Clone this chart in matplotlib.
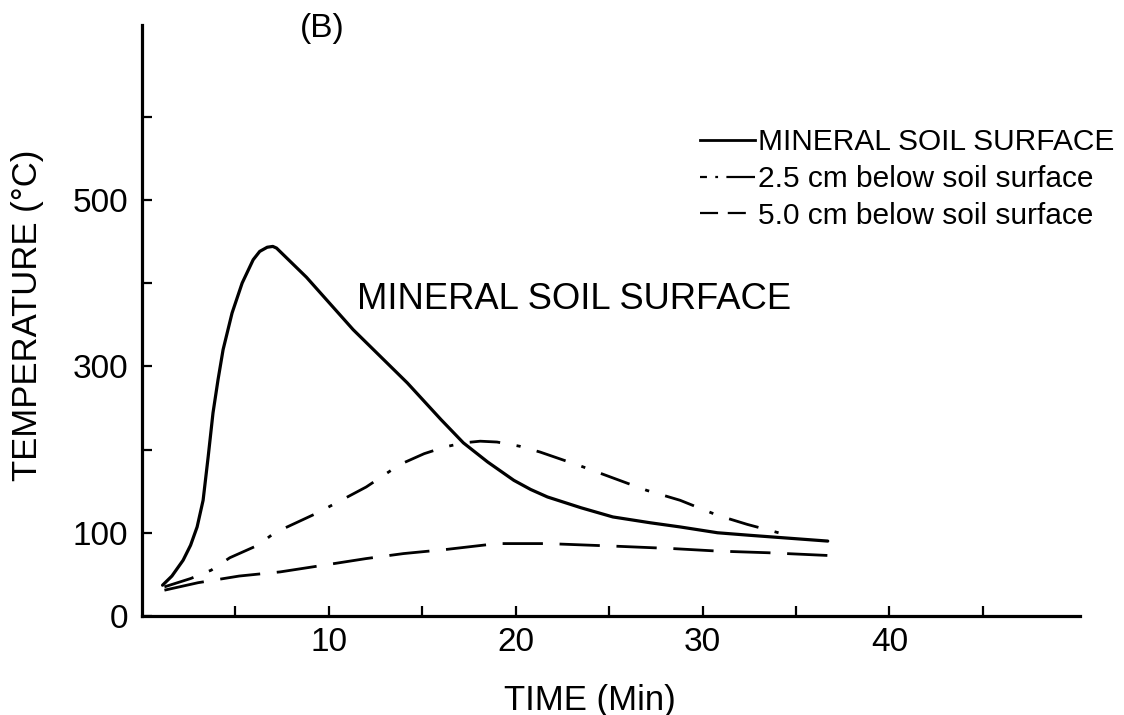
import matplotlib
matplotlib.use('Agg')
import matplotlib.pyplot as plt
from matplotlib.lines import Line2D
from matplotlib.ticker import FixedLocator

plt.rcParams['font.family'] = ['Liberation Sans', 'DejaVu Sans']
plt.rcParams['lines.scale_dashes'] = False

# Mineral soil surface
surf_t = [1.1, 1.6, 2.2, 2.6, 2.95, 3.1, 3.27, 3.54, 3.80, 4.07, 4.34,
          4.82, 5.36, 5.95, 6.3, 6.7, 7.0, 7.2,
          8.8, 11.3, 14.2, 15.1, 16.0, 17.2, 18.5, 19.9, 20.8, 21.7, 23.5,
          25.2, 27.2, 28.8, 30.8, 32.5, 34.3, 36.7]
surf_temp = [37, 48, 67, 85, 107, 122, 139, 191, 244, 284, 320,
             364, 400, 428, 438, 443, 444, 442,
             407, 344, 280, 258, 236, 208, 185, 163, 152, 143, 130,
             119, 112, 107, 100, 97, 94, 90]

# 2.5 cm below soil surface
mid_t = [1.2, 2.6, 3.7, 4.7, 6.2, 7.1, 9.4, 12.0, 13.8, 15.1, 16.2, 17.2,
         18.1, 19.0, 20.2, 21.3, 23.5, 27.0, 28.8, 30.8, 32.4, 34.9]
mid_temp = [35, 45, 55, 70, 85, 100, 124, 155, 182, 195, 203, 208,
            210, 209, 204, 197, 180, 151, 139, 121, 110, 95]

# 5.0 cm below soil surface
deep_t = [1.2, 3.0, 5.2, 7.4, 10.0, 12.0, 14.0, 16.3, 19.0, 21.7, 25.2,
          28.4, 30.8, 33.5, 37.4]
deep_temp = [31, 40, 48, 53, 62, 69, 75, 80, 87, 87, 84,
             81, 78, 76, 72]

labels = ['MINERAL SOIL SURFACE', '2.5 cm below soil surface',
          '5.0 cm below soil surface']

W, H = 1124, 715
fig = plt.figure(figsize=(W / 100, H / 100), dpi=100)
ax = fig.add_axes([142 / W, 1 - 616 / H, (1080 - 142) / W, (616 - 25) / H])

ax.plot(surf_t, surf_temp, color='black', lw=2.3, solid_capstyle='round',
        solid_joinstyle='round')
ax.plot(mid_t, mid_temp, color='black', lw=2.0, dashes=(22, 12, 3, 12))
ax.plot(deep_t, deep_temp, color='black', lw=2.0, dashes=(29, 12))

ax.set_xlim(0, 50.2)
ax.set_ylim(0, 710)
ax.spines['top'].set_visible(False)
ax.spines['right'].set_visible(False)
ax.spines['left'].set_linewidth(2.3)
ax.spines['bottom'].set_linewidth(2.3)

ax.xaxis.set_major_locator(FixedLocator([10, 20, 30, 40]))
ax.xaxis.set_minor_locator(FixedLocator([5, 15, 25, 35, 45]))
ax.yaxis.set_major_locator(FixedLocator([0, 100, 300, 500]))
ax.yaxis.set_minor_locator(FixedLocator([200, 400, 600]))
ax.tick_params(which='both', direction='in', length=7, width=1.6,
               labelsize=24)
ax.tick_params(axis='x', which='both', pad=8)
ax.tick_params(axis='y', which='both', pad=10)

ax.set_xlabel('TIME (Min)', fontsize=25)
ax.xaxis.set_label_coords((590 - 142) / (1080 - 142), (616 - 684) / 591)
ax.set_ylabel('TEMPERATURE (°C)', fontsize=25, va='center')
ax.yaxis.set_label_coords((28 - 142) / (1080 - 142), (616 - 315) / 591)

ax.text(11.5, 380, 'MINERAL SOIL SURFACE', fontsize=26.2,
        ha='left', va='center')
fig.text(322 / W, 1 - 29 / H, '(B)', fontsize=24, ha='center', va='center')

# legend keys use a shorter dash rhythm, as in the original
handles = [
    Line2D([], [], color='black', lw=2.0),
    Line2D([], [], color='black', lw=1.6, dashes=(5, 6, 2, 6, 25, 1)),
    Line2D([], [], color='black', lw=1.6, dashes=(13, 7)),
]
ax.legend(handles, labels, loc='upper left',
          bbox_to_anchor=(700 / W, 1 - 128 / H),
          bbox_transform=fig.transFigure, frameon=False, fontsize=21.5,
          handlelength=1.85, handletextpad=0.1, labelspacing=0.3,
          borderpad=0, borderaxespad=0)

fig.savefig('out.png', dpi=100)
